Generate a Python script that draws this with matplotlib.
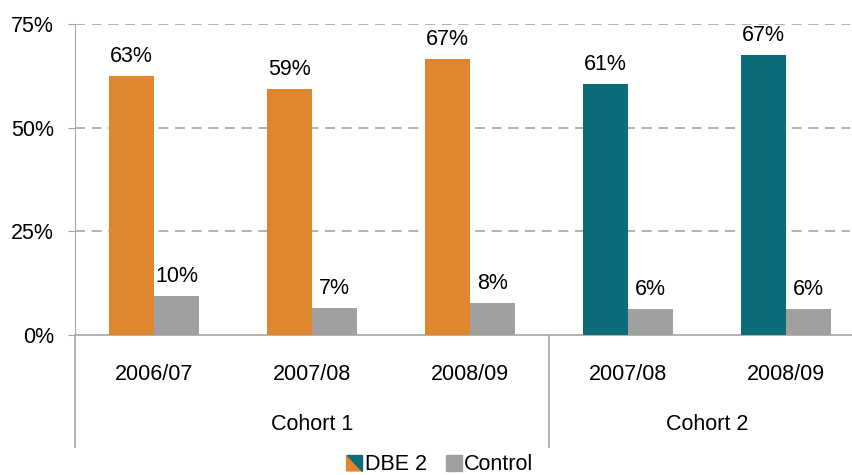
import numpy as np
import matplotlib.pyplot as plt
from matplotlib.patches import Polygon, Rectangle
from matplotlib.legend_handler import HandlerBase
import matplotlib.transforms as mtransforms

plt.rcParams['font.family'] = ['Liberation Sans', 'DejaVu Sans']

# data
years = ["2006/07", "2007/08", "2008/09", "2007/08", "2008/09"]
cohorts = ["Cohort 1", "Cohort 2"]
cohort_sizes = [3, 2]
dbe = [62.5, 59.3, 66.5, 60.5, 67.5]
dbe_labels = ["63%", "59%", "67%", "61%", "67%"]
control = [9.4, 6.5, 7.7, 6.3, 6.3]
control_labels = ["10%", "7%", "8%", "6%", "6%"]

orange = "#E0862F"
teal = "#0E6B7A"
grey = "#A0A0A0"
line_col = "#A6A6A6"
fs = 15.5

fig = plt.figure(figsize=(8.53, 4.75), dpi=100)
ax = fig.add_axes([75 / 853, 140 / 475, 790 / 853, 311 / 475])

x = np.arange(len(years))
w = 0.285
dbe_colors = [orange] * cohort_sizes[0] + [teal] * cohort_sizes[1]
b1 = ax.bar(x - w / 2, dbe, w, color=dbe_colors, zorder=3)
b2 = ax.bar(x + w / 2, control, w, color=grey, zorder=3)

for rect, lab in zip(b1, dbe_labels):
    ax.text(rect.get_x() + rect.get_width() / 2, rect.get_height() + 2.2, lab,
            ha="center", va="bottom", fontsize=fs)
for rect, lab in zip(b2, control_labels):
    ax.text(rect.get_x() + rect.get_width() / 2, rect.get_height() + 2.2, lab,
            ha="center", va="bottom", fontsize=fs)

ax.set_xlim(-0.5, len(years) - 0.5)
ax.set_ylim(0, 75)
ax.set_yticks([0, 25, 50, 75])
ax.set_yticklabels(["0%", "25%", "50%", "75%"], fontsize=fs)
ax.tick_params(axis="y", direction="out", length=5, color=line_col, pad=10)
ax.set_xticks([])

for v in [25, 50, 75]:
    ax.axhline(v, xmin=0, xmax=(850 - 75) / 790, color=line_col, lw=1.2,
               ls=(0, (6, 4)), zorder=1)

for s in ["top", "right"]:
    ax.spines[s].set_visible(False)
ax.spines["left"].set_color(line_col)
ax.spines["bottom"].set_color(line_col)
ax.spines["bottom"].set_linewidth(1.2)

trans = mtransforms.blended_transform_factory(ax.transData, ax.transAxes)
low = -(447 - 335) / 311
bounds = np.cumsum([0] + cohort_sizes) - 0.5
for b in bounds[:-1]:
    ax.plot([b, b], [0, low], transform=trans, color=line_col, lw=1.2, clip_on=False)

for xi, yr in zip(x, years):
    ax.text(xi, -40 / 311, yr, transform=trans, ha="center", va="center", fontsize=fs)
for i, c in enumerate(cohorts):
    mid = (bounds[i] + bounds[i + 1]) / 2
    ax.text(mid, -90 / 311, c, transform=trans, ha="center", va="center", fontsize=fs)


class SplitHandler(HandlerBase):
    def create_artists(self, legend, orig_handle, xdescent, ydescent, width, height, fontsize, trans):
        s = height
        x0 = xdescent + (width - s) / 2
        y0 = -ydescent
        p1 = Polygon([[x0, y0], [x0, y0 + s], [x0 + s, y0]], closed=True, color=orange, transform=trans)
        p2 = Polygon([[x0, y0 + s], [x0 + s, y0 + s], [x0 + s, y0]], closed=True, color=teal, transform=trans)
        return [p1, p2]


h1 = Rectangle((0, 0), 1, 1)
h2 = Rectangle((0, 0), 1, 1, color=grey)
fig.legend([h1, h2], ["DBE 2", "Control"], handler_map={h1: SplitHandler()},
           loc="center", bbox_to_anchor=(440 / 853, 1 - 465 / 475), ncol=2, frameon=False,
           fontsize=fs, handlelength=0.75, handleheight=0.75, handletextpad=0.1,
           columnspacing=0.9, borderpad=0)

fig.savefig("out.png", dpi=100)
